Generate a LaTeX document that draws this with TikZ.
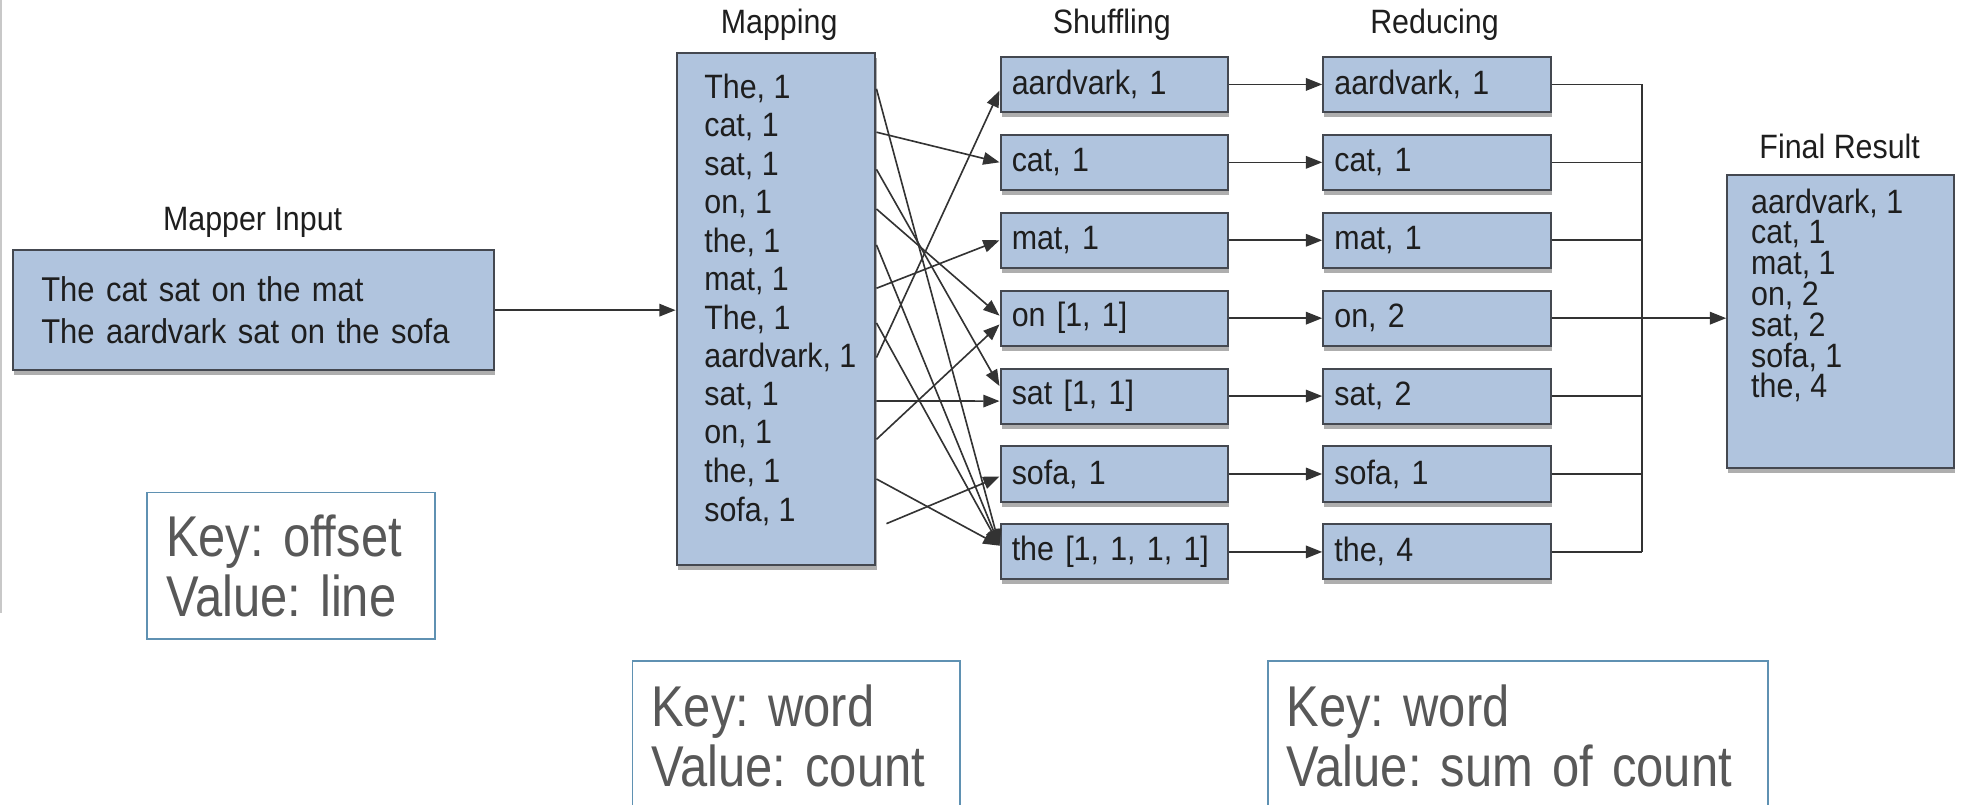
\documentclass[tikz,border=0pt]{standalone}
\usepackage{fontspec}
\setmainfont{Liberation Sans}[FakeStretch=0.9]
\newfontfamily\keyfont{Liberation Sans}[FakeStretch=0.85]
\usetikzlibrary{arrows.meta,shadows,calc}
\definecolor{boxfill}{RGB}{176,196,222}
\definecolor{boxline}{RGB}{68,72,80}
\definecolor{keyline}{RGB}{95,145,178}
\definecolor{keytext}{RGB}{88,88,88}
\definecolor{txt}{RGB}{30,30,30}
\definecolor{edgeline}{RGB}{200,200,200}
\tikzset{
  box/.style={draw=boxline, line width=1.6pt, fill=boxfill, inner sep=0pt,
    drop shadow={shadow xshift=1pt, shadow yshift=-4pt, fill=black!70, opacity=0.45}},
  txtfont/.style={font=\fontsize{27}{32}\selectfont, text=txt},
  smallbox/.style={box, txtfont, minimum width=182pt, minimum height=44pt,
    text width=164pt, align=left, inner xsep=9pt},
  item/.style={txtfont, inner sep=0pt, anchor=west},
  lbl/.style={txtfont, inner sep=0pt},
  keybox/.style={draw=keyline, line width=1.5pt, fill=white, align=left,
    font=\keyfont\fontsize{46}{48}\selectfont, text=keytext, inner ysep=0pt, inner xsep=15pt, anchor=north west},
  conn/.style={line width=1.3pt, draw=black!80},
  arr/.style={conn, -{Triangle[length=13pt,width=10pt]}},
}
\begin{document}
\frenchspacing
\begin{tikzpicture}[x=1pt,y=-1pt]
\useasboundingbox (0,0) rectangle (1568,643);
\draw[edgeline, line width=1.5pt] (0.8,0) -- (0.8,490);

% Mapper input
\node[lbl] (lin) at (202,178) {Mapper Input};
\node[box, txtfont, minimum width=385pt, minimum height=96pt, text width=339pt,
  inner xsep=23pt, align=left, font=\fontsize{27.5}{33}\selectfont] (input) at (202.5,248)
  {The cat sat on the mat\\The aardvark sat on the sofa};

% Mapping
\node[lbl] (lmap) at (623,20) {Mapping};
\node[box, minimum width=159pt, minimum height=410pt] (map) at (620.5,247) {};
\foreach \t [count=\k] in {The, cat, sat, on, the, mat, The, aardvark, sat, on, the, sofa}
  \node[item] (m\k) at (563,{71+30.7*(\k-1)}) {\t, 1};

% Shuffling
\node[lbl] (lshuf) at (889,20) {Shuffling};
\node[smallbox] (s1) at (891,67.5) {aardvark, 1};
\node[smallbox] (s2) at (891,129.8) {cat, 1};
\node[smallbox] (s3) at (891,192.1) {mat, 1};
\node[smallbox] (s4) at (891,254.4) {on [1, 1]};
\node[smallbox] (s5) at (891,316.7) {sat [1, 1]};
\node[smallbox] (s6) at (891,379) {sofa, 1};
\node[smallbox] (s7) at (891,441.3) {the [1, 1, 1, 1]};

% Reducing
\node[lbl] (lred) at (1147,20) {Reducing};
\node[smallbox] (r1) at (1149,67.5) {aardvark, 1};
\node[smallbox] (r2) at (1149,129.8) {cat, 1};
\node[smallbox] (r3) at (1149,192.1) {mat, 1};
\node[smallbox] (r4) at (1149,254.4) {on, 2};
\node[smallbox] (r5) at (1149,316.7) {sat, 2};
\node[smallbox] (r6) at (1149,379) {sofa, 1};
\node[smallbox] (r7) at (1149,441.3) {the, 4};

% Final result
\node[lbl] (lfin) at (1471,117) {Final Result};
\node[box, minimum width=181pt, minimum height=234pt] (fin) at (1471.5,257) {};
\foreach \t [count=\k] in {{aardvark, 1},{cat, 1},{mat, 1},{on, 2},{sat, 2},{sofa, 1},{the, 4}}
  \node[item] (f\k) at (1400,{163+24.5*(\k-1)}) {\t};

% Key boxes
\node[keybox, minimum width=230pt, minimum height=117pt, text width=200pt] (k1) at (117,393)
  {Key: offset\\Value: line};
\node[keybox, minimum width=262pt, minimum height=120pt, text width=232pt] (k2) at (505,528)
  {Key: word\\Value: count};
\node[keybox, minimum width=400pt, minimum height=120pt, text width=370pt] (k3) at (1013,528)
  {Key: word\\Value: sum of count};

% input -> mapping
\draw[arr] (input.east) -- (input.east -| map.west);

% mapping -> shuffling
\draw[arr] ($(map.east |- m1)+(0,0)$)  -- ($(s7.west)+(0,-5)$);
\draw[arr] ($(map.east |- m2)+(0,4)$)  -- (s2.west);
\draw[arr] ($(map.east |- m3)+(0,3)$)  -- ($(s5.west)+(0,-8)$);
\draw[arr] ($(map.east |- m4)+(0,4)$)  -- ($(s4.west)+(0,-2)$);
\draw[arr] ($(map.east |- m5)+(0,2)$)  -- ($(s7.west)+(0,-5)$);
\draw[arr] ($(map.east |- m6)+(0,6)$)  -- (s3.west);
\draw[arr] ($(map.east |- m7)+(0,3)$)  -- ($(s7.west)+(0,-5)$);
\draw[arr] ($(map.east |- m8)+(0,0)$)  -- ($(s1.west)+(0,5)$);
\draw[arr] ($(map.east |- m9)+(0,4)$)  -- ($(s5.west)+(0,4)$);
\draw[arr] ($(map.east |- m10)+(0,4)$) -- ($(s4.west)+(0,5)$);
\draw[arr] ($(map.east |- m11)+(0,5)$) -- ($(s7.west)+(0,-5)$);
\draw[arr] ($(map.east |- m12)+(8,10)$) -- ($(s6.west)+(0,2)$);

% shuffling -> reducing
\foreach \k in {1,...,7}
  \draw[arr] (s\k.east) -- (r\k.west);

% reducing -> bus
\coordinate (bustop) at ($(r1.east)+(72,0)$);
\coordinate (busbot) at ($(r7.east)+(72,0)$);
\foreach \k in {1,...,7}
  \draw[conn] (r\k.east) -- (r\k.east -| bustop);
\draw[conn] (bustop) -- (busbot);
\draw[arr] (r4.east -| bustop) -- (r4.east -| fin.west);
\end{tikzpicture}
\end{document}
